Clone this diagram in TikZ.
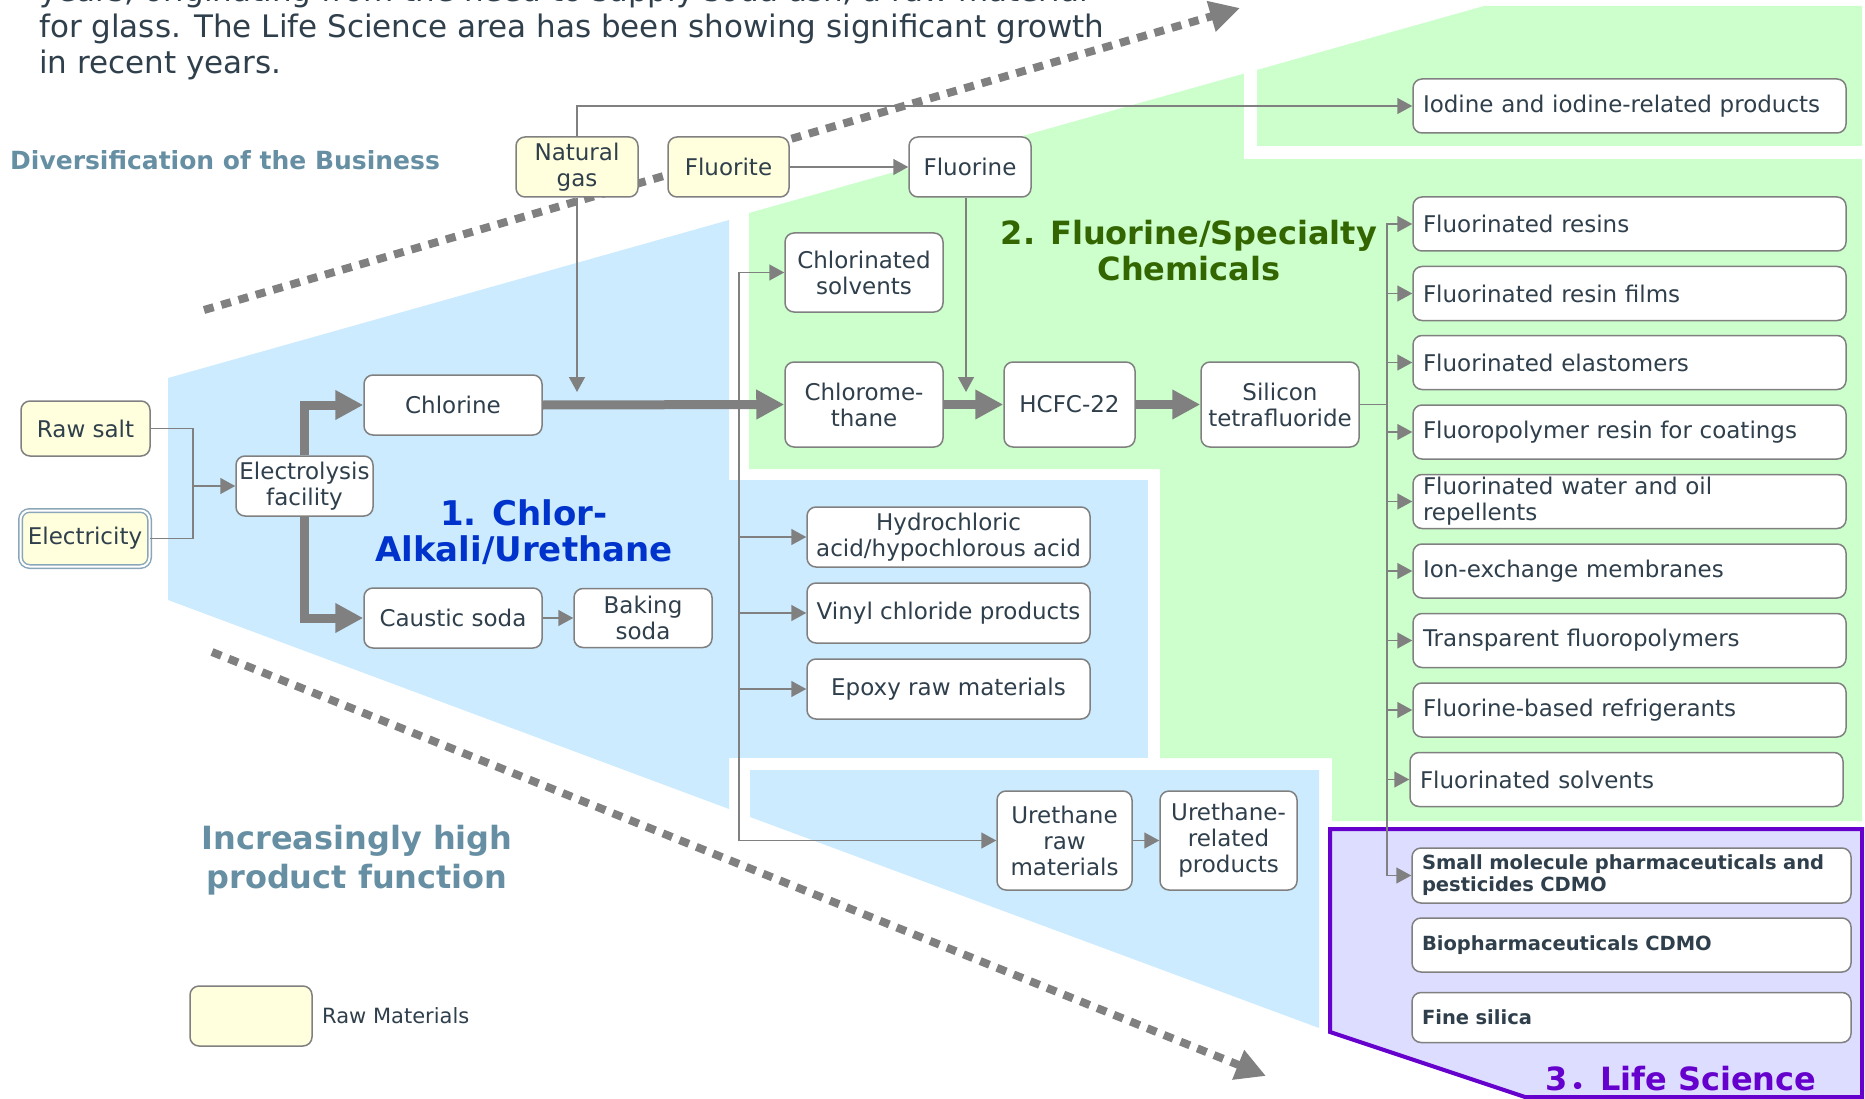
\documentclass[tikz,border=0pt]{standalone}
\usepackage{fontspec}
\setmainfont{DejaVu Sans}
\newfontfamily\cjkfont{Noto Sans CJK JP}
\usepackage{xcolor}
\usepackage{tikz}
\usetikzlibrary{arrows.meta}

\definecolor{ink}{RGB}{47,63,75}
\definecolor{boxgray}{RGB}{128,128,128}
\definecolor{arrowgray}{RGB}{128,128,128}
\definecolor{rawyellow}{RGB}{255,255,221}
\definecolor{elecblue}{RGB}{138,167,186}
\definecolor{chlorblue}{RGB}{204,235,255}
\definecolor{fluorgreen}{RGB}{204,255,204}
\definecolor{lifelav}{RGB}{221,221,255}
\definecolor{lifepurple}{RGB}{102,0,204}
\definecolor{secblue}{RGB}{0,51,204}
\definecolor{secgreen}{RGB}{51,102,0}
\definecolor{steel}{RGB}{102,143,163}

\begin{document}
\begin{tikzpicture}[x=1pt, y=-1pt,
        box/.style={
            draw=boxgray, line width=1.5pt, rounded corners=9pt,
            fill=white, text=ink, align=center, inner sep=0pt,
            font=\fontsize{23}{26}\selectfont
        },
        rawbox/.style={box, fill=rawyellow},
        prodbox/.style={box, minimum width=433pt, minimum height=54pt, text width=413pt, align=left},
        lifebox/.style={prodbox, minimum width=439pt, text width=419pt, font=\fontsize{19.5}{22}\selectfont\bfseries},
        link/.style={draw=arrowgray, line width=1.5pt},
        flow/.style={link, -{Triangle[length=15pt,width=16pt]}},
        bigflow/.style={draw=arrowgray, line width=9pt, -{Triangle[length=28pt,width=28pt]}},
        trend/.style={draw=arrowgray, line width=8pt, dash pattern=on 10pt off 8pt, -{Triangle[length=30pt,width=30pt]}},
        heading/.style={font=\fontsize{32}{36}\selectfont\bfseries, align=center, inner sep=0pt}
    ]

    \useasboundingbox (0,0) rectangle (1865,1099);
    \clip (0,0) rectangle (1865,1099);

    % business areas
    \fill[chlorblue] (168,378) -- (729,220) -- (729,809) -- (168,600) -- cycle;
    \fill[chlorblue] (700,480) rectangle (1148,758);
    \fill[chlorblue] (750,770) -- (1319,770) -- (1319,1028) -- (750,817) -- cycle;
    \fill[fluorgreen] (749,213) -- (1484,6) -- (1862,6) -- (1862,821) -- (1332,821)
        -- (1332,758) -- (1160,758) -- (1160,469) -- (749,469) -- cycle;
    \draw[white, line width=13pt] (1250,0) -- (1250,153) -- (1865,153);
    \draw[lifepurple, line width=4pt, fill=lifelav] (1330,829) -- (1862,829) -- (1862,1097)
        -- (1525,1097) -- (1330,1032) -- cycle;

    % trend arrows
    \coordinate (upstart) at (204,310);
    \coordinate (uptip) at (1240,8);
    \coordinate (lowstart) at (212,652);
    \coordinate (lowtip) at (1266,1076);
    \draw[trend] (upstart) -- (uptip);
    \draw[trend] (lowstart) -- (lowtip);

    \node[anchor=north west, align=left, inner sep=0pt, text=ink, font=\fontsize{31}{36}\selectfont] (intro) at (39,-22)
        {years, originating from the need to supply soda ash, a raw material\\
         for glass. The Life Science area has been showing significant growth\\
         in recent years.};

    \node[anchor=west, inner sep=0pt, text=steel, font=\fontsize{25}{30}\selectfont\bfseries] (diversity) at (10,160)
        {Diversification of the Business};
    \node[heading, text=steel, font=\fontsize{32}{39}\selectfont\bfseries] (functionlbl) at (357,860)
        {Increasingly high\\product function};
    \node[heading, text=secblue, font=\fontsize{34}{36}\selectfont\bfseries] (chloralkali) at (524,532)
        {1. Chlor-\\Alkali/Urethane};
    \node[heading, text=secgreen] (fluorspec) at (1189,251) {2. Fluorine/Specialty\\Chemicals};
    \node[heading, text=lifepurple, anchor=base] (lifesci) at (1681,1090) {3{\cjkfont ．}Life Science};

    % chlor-alkali
    \node[rawbox, minimum width=129pt, minimum height=55pt] (salt) at (85.5,428.5) {Raw salt};
    \node[rawbox, draw=elecblue, double=white, double distance=2pt,
          minimum width=129pt, minimum height=56pt] (electricity) at (85,538.5) {Electricity};
    \node[box, minimum width=137pt, minimum height=60pt] (electrolysis) at (304.5,486) {Electrolysis\\facility};
    \node[box, minimum width=178pt, minimum height=60pt] (chlorine) at (453,405) {Chlorine};
    \node[box, minimum width=178pt, minimum height=60pt] (caustic) at (453,618) {Caustic soda};
    \node[box, minimum width=138pt, minimum height=59pt] (baking) at (643,618) {Baking\\soda};
    \node[box, minimum width=283pt, minimum height=60pt] (hcl) at (948.5,537) {Hydrochloric\\acid/hypochlorous acid};
    \node[box, minimum width=283pt, minimum height=60pt] (vinyl) at (948.5,613) {Vinyl chloride products};
    \node[box, minimum width=283pt, minimum height=60pt] (epoxy) at (948.5,689) {Epoxy raw materials};
    \node[box, minimum width=135pt, minimum height=99pt] (urethraw) at (1064.5,840.5) {Urethane\\raw\\materials};
    \node[box, minimum width=137pt, minimum height=99pt] (urethrel) at (1228.5,840.5) {Urethane-\\related\\products};

    % fluorine / specialty
    \node[rawbox, minimum width=122pt, minimum height=60pt] (natgas) at (577,167) {Natural\\gas};
    \node[rawbox, minimum width=121pt, minimum height=60pt] (fluorite) at (728.5,167) {Fluorite};
    \node[box, minimum width=122pt, minimum height=60pt] (fluorine) at (970,167) {Fluorine};
    \node[box, minimum width=158pt, minimum height=79pt] (chlsolvents) at (864,272.5) {Chlorinated\\solvents};
    \node[box, minimum width=158pt, minimum height=85pt] (chlmethane) at (864,404.5) {Chlorome-\\thane};
    \node[box, minimum width=131pt, minimum height=85pt] (hcfc) at (1069.5,404.5) {HCFC-22};
    \node[box, minimum width=158pt, minimum height=85pt] (sif) at (1280,404.5) {Silicon\\tetrafluoride};

    \node[prodbox] (iodine) at (1629.5,106) {Iodine and iodine-related products};
    \node[prodbox] (resins) at (1629.5,224) {Fluorinated resins};
    \node[prodbox] (films) at (1629.5,293.5) {Fluorinated resin films};
    \node[prodbox] (elastomers) at (1629.5,362.5) {Fluorinated elastomers};
    \node[prodbox] (coatings) at (1629.5,432) {Fluoropolymer resin for coatings};
    \node[prodbox] (repellents) at (1629.5,501.5) {Fluorinated water and oil\\repellents};
    \node[prodbox] (ionexch) at (1629.5,571) {Ion-exchange membranes};
    \node[prodbox] (transparent) at (1629.5,640.5) {Transparent fluoropolymers};
    \node[prodbox] (refrigerants) at (1629.5,710) {Fluorine-based refrigerants};
    \node[prodbox] (fsolvents) at (1626.5,779.5) {Fluorinated solvents};

    % life science
    \node[lifebox, minimum height=55pt] (smallmol) at (1631.5,875.5) {Small molecule pharmaceuticals and\\pesticides CDMO};
    \node[lifebox] (biopharma) at (1631.5,945) {Biopharmaceuticals CDMO};
    \node[lifebox, minimum height=50pt] (silica) at (1631.5,1017.5) {Fine silica};

    % legend
    \node[rawbox, minimum width=122pt, minimum height=60pt] (legend) at (251,1016) {};
    \node[anchor=west, inner sep=0pt, text=ink, font=\fontsize{21}{24}\selectfont] (legendtext) at (322,1016) {Raw Materials};

    % raw materials into the electrolysis
    \coordinate (feed) at (193,486);
    \draw[link] (salt.east) -| (feed);
    \draw[link] (electricity.east) -| (feed);
    \draw[flow] (feed) -- (electrolysis.west);

    \draw[bigflow] (electrolysis.north) |- (chlorine.west);
    \draw[bigflow] (electrolysis.south) |- (caustic.west);
    \draw[flow] (caustic) -- (baking);

    % chlorine chain
    \draw[bigflow] (chlorine.east) -- (chlmethane.west);
    \draw[bigflow] (chlmethane) -- (hcfc);
    \draw[bigflow] (hcfc) -- (sif);

    \coordinate (clsplit) at (739,405);
    \foreach \n in {chlsolvents,hcl,vinyl,epoxy,urethraw}
        \draw[flow] (clsplit) |- (\n.west);
    \draw[flow] (urethraw) -- (urethrel);

    % natural gas and fluorite
    \coordinate (ngtip) at (577,392);
    \coordinate (fltip) at (966,392);
    \draw[flow] (natgas.north) |- (iodine.west);
    \draw[flow] (natgas.south) -- (ngtip);
    \draw[flow] (fluorite) -- (fluorine);
    \draw[flow] (fluorine.south -| fltip) -- (fltip);

    % silicon tetrafluoride products
    \foreach \n in {resins,films,elastomers,coatings,repellents,ionexch,transparent,refrigerants,fsolvents,smallmol}
        \draw[flow] (sif.east) -- ++(27,0) |- (\n.west);

\end{tikzpicture}
\end{document}
